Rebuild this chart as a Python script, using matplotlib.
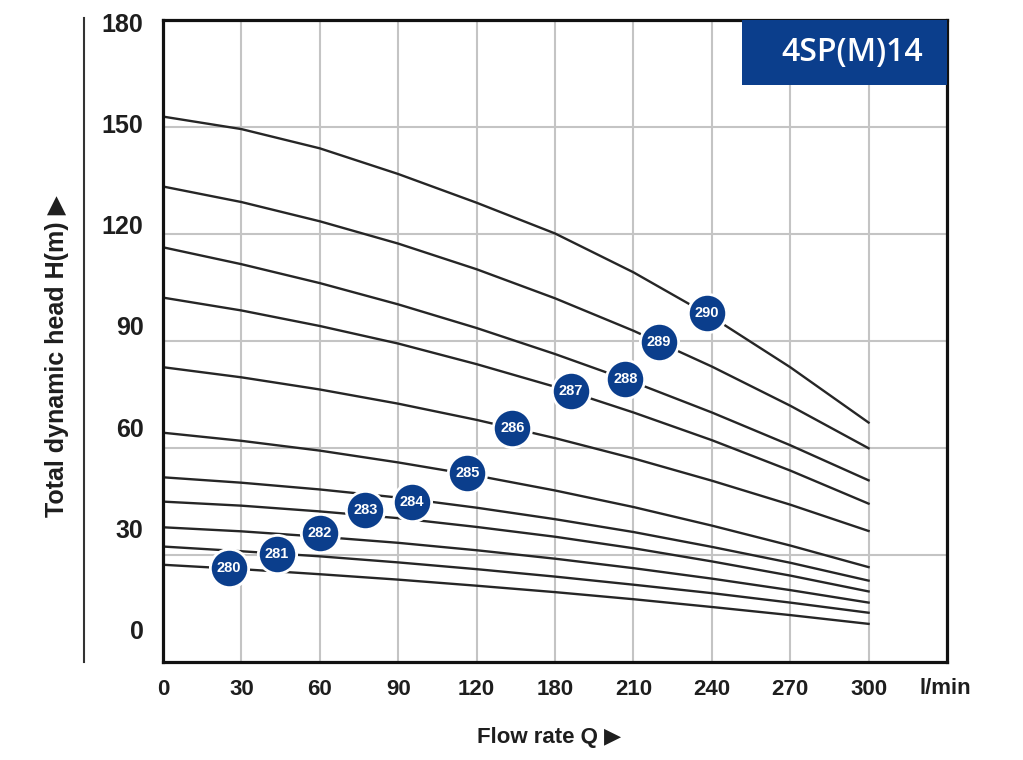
import numpy as np
import matplotlib
matplotlib.use("Agg")
import matplotlib.pyplot as plt
from matplotlib.patches import Rectangle
from matplotlib.lines import Line2D

# flow rate Q (l/min) at the grid columns, head H (m) per pump model
flow = [0, 30, 60, 90, 120, 180, 210, 240, 270, 300]
head_280 = [19.3, 18.0, 16.5, 14.9, 13.1, 11.2, 9.1, 6.8, 4.4, 1.8]
head_281 = [24.7, 23.3, 21.8, 20.0, 18.0, 15.8, 13.4, 10.9, 8.1, 5.1]
head_282 = [30.4, 29.2, 27.6, 25.8, 23.6, 21.1, 18.3, 15.2, 11.8, 8.1]
head_283 = [38.0, 36.8, 35.1, 33.1, 30.5, 27.6, 24.2, 20.3, 16.1, 11.4]
head_284 = [45.2, 43.6, 41.6, 39.2, 36.2, 32.8, 29.0, 24.6, 19.9, 14.6]
head_285 = [58.4, 56.0, 53.1, 49.6, 45.7, 41.3, 36.4, 30.9, 25.0, 18.6]
head_286 = [77.8, 74.8, 71.2, 67.0, 62.2, 56.8, 50.8, 44.2, 37.1, 29.3]
head_287 = [98.4, 94.6, 90.0, 84.8, 78.7, 72.0, 64.4, 56.2, 47.2, 37.4]
head_288 = [113.3, 108.3, 102.7, 96.4, 89.4, 81.7, 73.4, 64.4, 54.7, 44.3]
head_289 = [131.3, 126.7, 121.0, 114.4, 106.8, 98.2, 88.6, 78.0, 66.4, 53.8]
head_290 = [152.0, 148.3, 142.6, 135.0, 126.5, 117.4, 105.9, 92.7, 77.8, 61.4]
curves = [head_280, head_281, head_282, head_283, head_284, head_285,
          head_286, head_287, head_288, head_289, head_290]

# numbered badges
badge_labels = ["280", "281", "282", "283", "284", "285", "286", "287", "288", "289", "290"]
badge_q = [25.3, 43.6, 59.9, 77.4, 95.2, 116.5, 147.3, 186.2, 206.9, 219.7, 238.0]
badge_h = [18.3, 22.5, 28.8, 35.5, 38.0, 46.4, 59.9, 70.8, 74.2, 85.4, 93.8]

x_ticks = [0, 30, 60, 90, 120, 180, 210, 240, 270, 300]
y_ticks = [0, 30, 60, 90, 120, 150, 180]
model_name = "4SP(M)14"

blue = "#0b3e8c"
ink = "#1e1e1e"
font = ["Liberation Sans", "DejaVu Sans"]

# the chart skips 150 on the flow axis: gridline columns are evenly spaced
q_knots = [0, 120, 180, 330]
p_knots = [0, 4, 5, 10]


def q_to_pos(q):
    return np.interp(q, q_knots, p_knots)


def pos_to_q(p):
    return np.interp(p, p_knots, q_knots)


fig = plt.figure(figsize=(10.23, 7.6), dpi=100)
ax = fig.add_axes([0.1593, 0.1289, 0.7664, 0.8448])
ax.set_xscale("function", functions=(q_to_pos, pos_to_q))

ymin, ymax = -9.5, 180.6
ax.set_xlim(0, 330)
ax.set_ylim(ymin, ymax)

ax.set_xticks(x_ticks)
ax.set_xticklabels([str(v) for v in x_ticks], fontsize=16, family=font,
                   fontweight="bold", color=ink)
ax.set_yticks(y_ticks)
ax.set_yticklabels([str(v) for v in y_ticks], fontsize=18, family=font,
                   fontweight="bold", color=ink)
ax.set_yticks(np.linspace(ymin, ymax, 7)[1:-1], minor=True)
ax.xaxis.set_minor_locator(matplotlib.ticker.NullLocator())
ax.tick_params(which="both", length=0)
ax.tick_params(axis="x", pad=12)
ax.tick_params(axis="y", pad=14)

ax.grid(axis="x", which="major", color="#c4c4c4", lw=1.5)
ax.grid(axis="y", which="minor", color="#c4c4c4", lw=1.5)
ax.set_axisbelow(True)
for s in ax.spines.values():
    s.set_linewidth(2.3)
    s.set_color("#111111")

for h in curves:
    ax.plot(flow, h, color="#262626", lw=1.7, zorder=2)

ax.scatter(badge_q, badge_h, s=760, c=blue, edgecolors="white", linewidths=2, zorder=4)
for q, h, lab in zip(badge_q, badge_h, badge_labels):
    ax.text(q, h, lab, color="white", ha="center", va="center", fontsize=10.5,
            fontweight="bold", family=font, zorder=5)

ax.add_patch(Rectangle((0.7385, 0.8988), 0.2615, 0.1012, transform=ax.transAxes,
                       fc=blue, ec="none", zorder=3))
ax.text(0.879, 0.950, model_name, transform=ax.transAxes, color="white",
        fontsize=23, family=["Open Sans", "DejaVu Sans"], fontweight="semibold",
        ha="center", va="center", zorder=4)

ax.text(0.9974, -0.0255, "l/min", transform=ax.transAxes, ha="center", va="top",
        fontsize=16, family=font, fontweight="bold", color=ink)

fig.text(0.537, 0.029, "Flow rate Q \u25B6", ha="center", va="center", fontsize=16,
         family=font, fontweight="bold", color=ink)
fig.text(0.056, 0.532, "Total dynamic head H(m) \u25B6", rotation=90, ha="center", va="center",
         fontsize=18, family=font, fontweight="bold", color=ink)

fig.add_artist(Line2D([0.0821, 0.0821], [0.129, 0.976], color="#333333", lw=1.5))

fig.savefig("out.png", dpi=100)
